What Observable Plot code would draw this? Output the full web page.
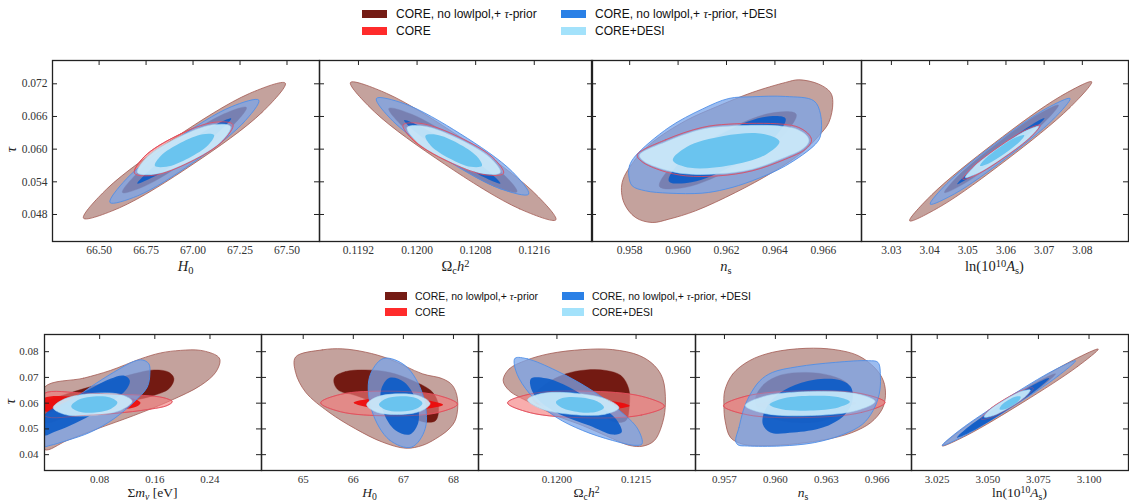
<!DOCTYPE html>
<html><head><meta charset="utf-8">
<script src="https://cdn.jsdelivr.net/npm/d3@7"></script>
<script src="https://cdn.jsdelivr.net/npm/@observablehq/plot@0.6"></script>
<style>
body{margin:0;background:#fff;}
#root{position:relative;width:1129px;height:502px;overflow:hidden;background:#fff;}
.abs{position:absolute;}
.leg{font-family:"Liberation Sans",Arial,sans-serif;color:#111;white-space:nowrap;}
.ttl{font-family:"Liberation Serif","DejaVu Serif",serif;color:#222;white-space:nowrap;transform:translateX(-50%);}
.ttl sub{font-size:0.72em;vertical-align:-0.3em;line-height:0;}
.ttl sup{font-size:0.72em;vertical-align:0.4em;line-height:0;}
.tau{font-family:"Liberation Serif","DejaVu Serif",serif;font-style:italic;font-size:15px;line-height:15px;color:#222;transform:rotate(-90deg);}
</style></head><body><div id="root"></div>
<script>
// ---------- legend / labels ----------
const seriesNames = ["CORE, no lowlpol,+ τ-prior", "CORE", "CORE, no lowlpol,+ τ-prior, +DESI", "CORE+DESI"];
const seriesColors = ["#741b14", "#ff2b2b", "#2a80e6", "#a3e2fb"];
const topTitles = ["<i>H</i><sub>0</sub>", "Ω<sub>c</sub><i>h</i><sup>2</sup>", "<i>n</i><sub>s</sub>", "ln(10<sup>10</sup><i>A</i><sub>s</sub>)"];
const bottomTitles = ["Σ<i>m</i><sub><i>ν</i></sub> [eV]", "<i>H</i><sub>0</sub>", "Ω<sub>c</sub><i>h</i><sup>2</sup>", "<i>n</i><sub>s</sub>", "ln(10<sup>10</sup><i>A</i><sub>s</sub>)"];

// ---------- tick values ----------
const tauTicksTop = [0.048, 0.054, 0.060, 0.066, 0.072];
const tauTicksBottom = [0.04, 0.05, 0.06, 0.07, 0.08];
const t1Ticks = [66.50, 66.75, 67.00, 67.25, 67.50];
const t2Ticks = [0.1192, 0.1200, 0.1208, 0.1216];
const t3Ticks = [0.958, 0.960, 0.962, 0.964, 0.966];
const t4Ticks = [3.03, 3.04, 3.05, 3.06, 3.07, 3.08];
const b1Ticks = [0.08, 0.16, 0.24];
const b2Ticks = [65, 66, 67, 68];
const b3Ticks = [0.1200, 0.1215];
const b4Ticks = [0.957, 0.960, 0.963, 0.966];
const b5Ticks = [3.025, 3.050, 3.075, 3.100];

// ---------- contours: top row (tau vs H0, Omega_c h^2, n_s, ln10As) ----------
const t1BrownOuter = [[67.491,0.07212],[67.367,0.06675],[67.001,0.05727],[66.608,0.04922],[66.417,0.04732],[66.541,0.05269],[66.907,0.06217],[67.300,0.07022]];
const t1BrownInner = [[67.284,0.06766],[67.209,0.06426],[66.985,0.05827],[66.743,0.05322],[66.624,0.05204],[66.699,0.05545],[66.923,0.06143],[67.165,0.06648]];
const t1BlueOuter = [[67.350,0.06900],[67.264,0.06471],[66.997,0.05744],[66.705,0.05142],[66.558,0.05020],[66.644,0.05449],[66.911,0.06177],[67.203,0.06778]];
const t1BlueInner = [[67.203,0.06563],[67.141,0.06331],[66.969,0.05885],[66.788,0.05487],[66.703,0.05369],[66.765,0.05601],[66.937,0.06047],[67.118,0.06445]];
const t1RedOuter = [[67.212,0.06453],[67.159,0.06151],[66.984,0.05764],[66.789,0.05519],[66.688,0.05559],[66.740,0.05861],[66.915,0.06248],[67.111,0.06493]];
const t1CyanOuter = [[67.199,0.06416],[67.149,0.06137],[66.983,0.05774],[66.798,0.05540],[66.704,0.05571],[66.754,0.05851],[66.920,0.06214],[67.104,0.06448]];
const t1CyanInner = [[67.112,0.06258],[67.081,0.06075],[66.976,0.05835],[66.858,0.05677],[66.797,0.05694],[66.829,0.05877],[66.934,0.06117],[67.052,0.06275]];

const t2BrownOuter = [[0.121895,0.04702],[0.1214,0.049032],[0.120375,0.057253],[0.119418,0.066868],[0.119091,0.072246],[0.119586,0.070234],[0.120611,0.062013],[0.121568,0.052398]];
const t2BrownInner = [[0.121364,0.052163],[0.121051,0.053223],[0.120409,0.058144],[0.119813,0.064045],[0.119614,0.067469],[0.119927,0.066409],[0.120569,0.061488],[0.121165,0.055587]];
const t2BlueOuter = [[0.121523,0.051734],[0.121143,0.052688],[0.120377,0.058228],[0.119673,0.065112],[0.119445,0.069306],[0.119825,0.068352],[0.120591,0.062812],[0.121295,0.055928]];
const t2BlueInner = [[0.121137,0.053694],[0.120916,0.054818],[0.12044,0.05869],[0.119988,0.063042],[0.119823,0.065326],[0.120044,0.064202],[0.12052,0.06033],[0.120972,0.055978]];
const t2RedOuter = [[0.121181,0.055561],[0.120924,0.055298],[0.120416,0.05779],[0.119954,0.061576],[0.119809,0.064439],[0.120066,0.064702],[0.120574,0.06221],[0.121036,0.058424]];
const t2CyanOuter = [[0.121136,0.055714],[0.120898,0.055483],[0.120427,0.057808],[0.119998,0.061327],[0.119864,0.06398],[0.120102,0.064211],[0.120573,0.061886],[0.121002,0.058367]];
const t2CyanInner = [[0.120886,0.056939],[0.120734,0.05675],[0.120445,0.058286],[0.120188,0.060646],[0.120114,0.062449],[0.120266,0.062638],[0.120556,0.061102],[0.120812,0.058742]];

const t3BrownOuter = [[0.95769,0.053877],[0.958241,0.058163],[0.958929,0.061225],[0.960306,0.065205],[0.961683,0.06796],[0.96306,0.070409],[0.964437,0.072246],[0.964988,0.072736],[0.965814,0.07194],[0.966296,0.070409],[0.966393,0.068572],[0.966227,0.064898],[0.965814,0.062449],[0.965126,0.059388],[0.963886,0.055714],[0.962372,0.05204],[0.960719,0.048672],[0.959618,0.047142],[0.958929,0.046529],[0.958241,0.047448],[0.957759,0.050203]];
const t3BrownInner = [[0.964878,0.066429],[0.964301,0.062379],[0.962409,0.05681],[0.960309,0.052985],[0.959232,0.053143],[0.959809,0.057193],[0.961701,0.062762],[0.963801,0.066587]];
const t3BlueOuter = [[0.957965,0.055102],[0.957993,0.056939],[0.958241,0.058775],[0.959618,0.06398],[0.960995,0.067348],[0.962096,0.069307],[0.96306,0.069613],[0.964437,0.069674],[0.965608,0.068878],[0.965883,0.066429],[0.965883,0.062449],[0.965677,0.060918],[0.964437,0.056939],[0.96306,0.054183],[0.961959,0.052652],[0.960995,0.051918],[0.959618,0.051918],[0.958654,0.052346],[0.958103,0.053265]];
const t3BlueInner = [[0.964438,0.065634],[0.963963,0.062039],[0.962354,0.057178],[0.960555,0.053899],[0.959618,0.054122],[0.960093,0.057717],[0.961702,0.062578],[0.963501,0.065857]];
const t3RedOuter = [[0.95831,0.058898],[0.95948,0.061714],[0.960995,0.06398],[0.962096,0.064592],[0.9643,0.064592],[0.964988,0.06398],[0.965429,0.062572],[0.965511,0.06147],[0.965263,0.06],[0.964437,0.058163],[0.96306,0.05602],[0.961683,0.055102],[0.960306,0.055102],[0.959342,0.05602],[0.958516,0.057673]];
const t3CyanOuter = [[0.958406,0.058898],[0.959549,0.06147],[0.960995,0.063674],[0.962096,0.064225],[0.964272,0.064225],[0.964933,0.063613],[0.965332,0.062388],[0.965401,0.061408],[0.965153,0.060061],[0.964368,0.058408],[0.96306,0.056326],[0.961683,0.055469],[0.960306,0.055469],[0.95937,0.056326],[0.958585,0.057796]];
const t3CyanInner = [[0.964189,0.061408],[0.963619,0.058988],[0.962092,0.056982],[0.960503,0.056564],[0.959783,0.05798],[0.960353,0.0604],[0.96188,0.062406],[0.963469,0.062824]];

const t4BrownOuter = [[3.082435,0.072368],[3.076615,0.067554],[3.060248,0.058082],[3.042921,0.0495],[3.034783,0.046836],[3.040603,0.05165],[3.05697,0.061122],[3.074297,0.069704]];
const t4BrownInner = [[3.073739,0.068082],[3.070146,0.065017],[3.059922,0.05905],[3.049056,0.053675],[3.043913,0.05204],[3.047506,0.055105],[3.05773,0.061072],[3.068596,0.066447]];
const t4BlueOuter = [[3.076782,0.069306],[3.072428,0.065518],[3.059903,0.058264],[3.046542,0.051794],[3.040174,0.049898],[3.044528,0.053686],[3.057053,0.06094],[3.070414,0.06741]];
const t4BlueInner = [[3.070087,0.065694],[3.067143,0.063537],[3.059226,0.059094],[3.050973,0.054967],[3.047217,0.053572],[3.050161,0.055729],[3.058078,0.060172],[3.066331,0.064299]];
const t4RedOuter = [[3.068956,0.064408],[3.066621,0.062314],[3.059722,0.058543],[3.052297,0.055302],[3.048696,0.05449],[3.051031,0.056584],[3.05793,0.060355],[3.065355,0.063596]];
const t4CyanOuter = [[3.068522,0.064164],[3.066279,0.062225],[3.059748,0.058678],[3.052753,0.055601],[3.049392,0.054796],[3.051635,0.056735],[3.058166,0.060282],[3.065161,0.063359]];
const t4CyanInner = [[3.064783,0.062571],[3.063507,0.061318],[3.059591,0.059149],[3.055329,0.057336],[3.053217,0.056939],[3.054493,0.058192],[3.058409,0.060361],[3.062671,0.062174]];

// ---------- contours: bottom row (tau vs sum m_nu, H0, Omega_c h^2, n_s, ln10As) ----------
const b1BrownOuter = [[0,0.0662],[0.0567,0.0697],[0.0955,0.0727],[0.1392,0.0772],[0.1683,0.0795],[0.1974,0.0805],[0.2265,0.0805],[0.2507,0.0783],[0.2546,0.0766],[0.2483,0.0720],[0.2265,0.0669],[0.1828,0.0610],[0.1295,0.0552],[0.0761,0.0500],[0.0325,0.0455],[0,0.0420],[-0.006,0.054]];
const b1BrownInner = [[0,0.0601],[0.0325,0.0636],[0.0810,0.0675],[0.1295,0.0714],[0.1586,0.0729],[0.1804,0.0720],[0.1877,0.0695],[0.1804,0.0656],[0.1586,0.0630],[0.1295,0.0610],[0.0810,0.0578],[0.0325,0.0546],[0,0.0524],[-0.006,0.056]];
const b1BlueOuter = [[0,0.0547],[0.0325,0.0597],[0.0664,0.0662],[0.1004,0.0720],[0.1295,0.0762],[0.1416,0.0768],[0.1513,0.0753],[0.1528,0.0714],[0.1489,0.0662],[0.1295,0.0604],[0.1004,0.0539],[0.0664,0.0487],[0.0325,0.0455],[0.0082,0.0436],[0,0.0433],[-0.006,0.049]];
const b1BlueInner = [[0,0.0555],[0.0325,0.0607],[0.0664,0.0656],[0.0955,0.0695],[0.1149,0.0707],[0.1237,0.0688],[0.1174,0.0649],[0.0955,0.0604],[0.0664,0.0552],[0.0373,0.0513],[0.0131,0.0487],[0,0.0475],[-0.006,0.051]];
const b1RedOuter = [[0,0.0638],[0.0567,0.0639],[0.1052,0.0635],[0.1440,0.0630],[0.1731,0.0621],[0.1853,0.0606],[0.1780,0.0591],[0.1489,0.0575],[0.1052,0.0561],[0.0567,0.0552],[0,0.0551],[-0.006,0.0595]];
const b1RedInner = [[0,0.0621],[0.0567,0.0625],[0.1052,0.0622],[0.1295,0.0617],[0.1392,0.0601],[0.1319,0.0585],[0.1052,0.0575],[0.0567,0.0572],[0,0.0570],[-0.006,0.0596]];
const b1CyanOuter = [[0.12705,0.06078],[0.11123,0.05739],[0.07117,0.05523],[0.03034,0.05556],[0.01259,0.05819],[0.0284,0.06158],[0.06846,0.06374],[0.10929,0.0634]];
const b1CyanInner = [[0.10571,0.06026],[0.09664,0.05784],[0.07326,0.05639],[0.0493,0.05675],[0.03878,0.05871],[0.04784,0.06113],[0.07122,0.06258],[0.09518,0.06221]];

const b2BrownOuter = [[64.847,0.0779],[65.380,0.0807],[65.780,0.0811],[66.247,0.0798],[66.713,0.0772],[67.380,0.0714],[67.780,0.0695],[67.980,0.0669],[68.080,0.0617],[68.047,0.0539],[67.913,0.0500],[67.647,0.0462],[67.380,0.0436],[67.047,0.0425],[66.580,0.0449],[66.047,0.0500],[65.513,0.0565],[65.047,0.0643],[64.847,0.0720]];
const b2BrownInner = [[65.627,0.0701],[65.847,0.0723],[66.247,0.0729],[66.713,0.0720],[67.180,0.0688],[67.580,0.0643],[67.700,0.0591],[67.647,0.0533],[67.447,0.0526],[67.047,0.0552],[66.580,0.0591],[66.047,0.0630],[65.713,0.0649],[65.620,0.0675]];
const b2BlueOuter = [[67.160,0.04292],[66.719,0.04575],[66.372,0.05701],[66.323,0.07009],[66.600,0.07734],[67.041,0.07451],[67.388,0.06325],[67.437,0.05017]];
const b2BlueInner = [[67.130,0.04784],[66.840,0.04945],[66.601,0.05656],[66.553,0.06501],[66.723,0.06983],[67.013,0.06822],[67.253,0.06111],[67.301,0.05266]];
const b2RedOuter = [[68.080,0.05961],[67.678,0.0563],[66.711,0.05508],[65.745,0.05667],[65.347,0.06013],[65.749,0.06344],[66.716,0.06466],[67.681,0.06307]];
const b2RedInner = [[67.793,0.05935],[67.530,0.05801],[66.897,0.05767],[66.267,0.05855],[66.007,0.06013],[66.270,0.06148],[66.903,0.06181],[67.533,0.06093]];
const b2CyanOuter = [[67.533,0.05987],[67.351,0.05696],[66.905,0.0556],[66.455,0.0566],[66.267,0.05935],[66.449,0.06226],[66.895,0.06362],[67.345,0.06263]];
const b2CyanInner = [[67.380,0.0600],[67.256,0.05783],[66.951,0.05677],[66.643,0.05745],[66.513,0.05948],[66.637,0.06166],[66.942,0.06272],[67.250,0.06203]];

const b3BrownOuter = [[0.118981,0.0688],[0.119095,0.0733],[0.119411,0.0766],[0.119854,0.0792],[0.120487,0.0808],[0.121057,0.0808],[0.121563,0.0785],[0.121848,0.0746],[0.122006,0.0695],[0.122057,0.0604],[0.122006,0.0526],[0.121848,0.0455],[0.121627,0.0433],[0.121373,0.0436],[0.121057,0.0462],[0.120487,0.0513],[0.119981,0.0552],[0.119475,0.0604],[0.119095,0.0649]];
const b3BrownInner = [[0.119538,0.0623],[0.119791,0.0675],[0.120171,0.0714],[0.120551,0.0729],[0.120930,0.0727],[0.121215,0.0707],[0.121361,0.0656],[0.121373,0.0591],[0.121310,0.0533],[0.121120,0.0526],[0.120804,0.0552],[0.120297,0.0572],[0.119791,0.0591],[0.119570,0.0604]];
const b3BlueOuter = [[0.119209,0.0775],[0.119443,0.0772],[0.119981,0.0727],[0.120614,0.0656],[0.121184,0.0572],[0.121532,0.0500],[0.121614,0.0442],[0.121500,0.0436],[0.121057,0.0455],[0.120487,0.0494],[0.119981,0.0546],[0.119570,0.0617],[0.119285,0.0695],[0.119190,0.0753]];
const b3BlueInner = [[0.119506,0.0695],[0.119791,0.0697],[0.120234,0.0662],[0.120740,0.0597],[0.121120,0.0539],[0.121228,0.0487],[0.121057,0.0478],[0.120614,0.0513],[0.120108,0.0552],[0.119696,0.0604],[0.119525,0.0649]];
const b3RedOuter = [[0.122038,0.05884],[0.121599,0.05537],[0.120546,0.05431],[0.119495,0.05629],[0.119063,0.06013],[0.119503,0.0636],[0.120556,0.06466],[0.121606,0.06268]];
const b3RedInner = [[0.12138,0.05903],[0.121116,0.05779],[0.120485,0.05754],[0.119854,0.05843],[0.119595,0.05994],[0.119858,0.06118],[0.12049,0.06142],[0.12112,0.06053]];
const b3CyanOuter = [[0.121177,0.05819],[0.120911,0.05573],[0.120292,0.05561],[0.119685,0.05792],[0.119443,0.06129],[0.11971,0.06375],[0.120328,0.06387],[0.120935,0.06157]];
const b3CyanInner = [[0.120892,0.05832],[0.120748,0.05662],[0.120422,0.05652],[0.120104,0.05808],[0.119981,0.06039],[0.120125,0.06208],[0.120452,0.06219],[0.12077,0.06062]];

const b4BrownOuter = [[0.957017,0.064805],[0.957485,0.0713],[0.958471,0.076493],[0.959827,0.07974],[0.9618,0.0813],[0.963526,0.080779],[0.964882,0.078442],[0.965868,0.073636],[0.966362,0.068701],[0.966485,0.062857],[0.966288,0.057662],[0.965622,0.052468],[0.964512,0.048572],[0.963033,0.045974],[0.961307,0.044286],[0.959334,0.043507],[0.958101,0.044026],[0.957362,0.046623],[0.957041,0.053117],[0.956967,0.058961]];
const b4BrownInner = [[0.958841,0.062208],[0.959334,0.067403],[0.960321,0.070909],[0.9618,0.071948],[0.963279,0.070649],[0.964266,0.067403],[0.964389,0.062208],[0.964019,0.057013],[0.962786,0.053117],[0.96106,0.052468],[0.959704,0.054416],[0.958964,0.057662]];
const b4BlueOuter = [[0.957658,0.045325],[0.957855,0.050519],[0.958101,0.057013],[0.958471,0.062857],[0.959088,0.068701],[0.959827,0.071948],[0.961307,0.074156],[0.963526,0.075844],[0.965499,0.076493],[0.966041,0.075844],[0.966189,0.07],[0.966115,0.063506],[0.965745,0.057013],[0.965129,0.051818],[0.964019,0.047922],[0.962293,0.044675],[0.960321,0.043377],[0.958348,0.043377],[0.957806,0.043766]];
const b4BlueInner = [[0.95926,0.051818],[0.959334,0.056364],[0.959827,0.061558],[0.960814,0.066104],[0.962293,0.069091],[0.963773,0.068961],[0.964463,0.066104],[0.964512,0.06026],[0.964019,0.055065],[0.962786,0.050519],[0.96106,0.048571],[0.959704,0.048571]];
const b4RedOuter = [[0.96646,0.06026],[0.965084,0.056403],[0.961726,0.054416],[0.958355,0.055481],[0.956943,0.058961],[0.958318,0.062818],[0.961677,0.064805],[0.965047,0.06374]];
const b4RedInner = [[0.964759,0.06],[0.963898,0.058507],[0.96181,0.057662],[0.959714,0.057961],[0.958841,0.059221],[0.959702,0.060714],[0.96179,0.061558],[0.963886,0.06126]];
const b4CyanOuter = [[0.965868,0.060649],[0.964774,0.057117],[0.962081,0.055195],[0.959369,0.056013],[0.958225,0.059091],[0.959319,0.062623],[0.962012,0.064545],[0.964724,0.063727]];
const b4CyanInner = [[0.964389,0.060519],[0.963711,0.058351],[0.962044,0.057143],[0.960365,0.05761],[0.959655,0.059481],[0.960333,0.061649],[0.962,0.062857],[0.963679,0.06239]];

const b5BrownOuter = [[3.10455,0.081],[3.094271,0.074197],[3.067443,0.060359],[3.039775,0.047589],[3.02747,0.043364],[3.037749,0.050167],[3.064577,0.064005],[3.092245,0.076775]];
const b5BrownInner = [[3.083453,0.071415],[3.077698,0.067179],[3.06229,0.058808],[3.046254,0.051203],[3.038983,0.048819],[3.044738,0.053055],[3.060146,0.061426],[3.076182,0.069031]];
const b5BlueOuter = [[3.093334,0.07648],[3.08463,0.070499],[3.061751,0.058391],[3.038096,0.047249],[3.02752,0.043598],[3.036224,0.049579],[3.059103,0.061687],[3.082758,0.072829]];
const b5BlueInner = [[3.08029,0.06974],[3.074374,0.065424],[3.058584,0.05686],[3.042166,0.049062],[3.034734,0.046598],[3.04065,0.050914],[3.05644,0.059478],[3.072858,0.067276]];
const b5RedOuter = [[3.072434,0.065883],[3.069564,0.06293],[3.060852,0.058169],[3.051398,0.05439],[3.04674,0.053805],[3.04961,0.056758],[3.058322,0.061519],[3.067776,0.065298]];
const b5RedInner = [[3.06601,0.062844],[3.064663,0.061254],[3.060343,0.058839],[3.055581,0.057012],[3.053164,0.056844],[3.054511,0.058434],[3.058831,0.060849],[3.063593,0.062676]];
const b5CyanOuter = [[3.070951,0.065065],[3.068411,0.062463],[3.060704,0.058328],[3.052343,0.055081],[3.048223,0.054623],[3.050763,0.057225],[3.05847,0.06136],[3.066831,0.064607]];
const b5CyanInner = [[3.066208,0.062455],[3.06531,0.060918],[3.0619,0.058866],[3.057974,0.057502],[3.055832,0.057623],[3.05673,0.05916],[3.06014,0.061212],[3.064066,0.062576]];

// ---------- styles (draw order: brown, red, blue, cyan) ----------
const STY = {
  brownOuter: {fill:"#c4a29d", fo:1, stroke:"#a35a53", sw:0.8},
  brownInner: {fill:"#731a12", fo:1, stroke:"#731a12", sw:0.4},
  redOuter:   {fill:"#f47a7a", fo:0.62, stroke:"#e4505c", sw:0.9},
  redInner:   {fill:"#ee0a0a", fo:0.92, stroke:"none", sw:0},
  blueOuter:  {fill:"#7aa4ea", fo:0.74, stroke:"#4f8fe8", sw:0.9},
  blueInner:  {fill:"#0d5cc8", fo:0.92, stroke:"none", sw:0},
  cyanOuter:  {fill:"#c9e9fa", fo:0.93, stroke:"#a6d8f3", sw:0.6},
  cyanInner:  {fill:"#6ac4ef", fo:1, stroke:"none", sw:0}
};
const ORDER = ["brownOuter","brownInner","redOuter","redInner","blueOuter","blueInner","cyanOuter","cyanInner"];

const root = document.getElementById("root");

// layout of panels (frame rectangles in px)
const TOP = {y0:60, y1:241, yDomain:[0.04304,0.07628], yTicks:tauTicksTop, yFmt:".3f", padX:4, padY:5, outline:0.9, titleTop:259, titleSize:14.5, tickFont:"11.5px"};
const BOT = {y0:334, y1:470, yDomain:[0.03385,0.08667], yTicks:tauTicksBottom, yFmt:".2f", padX:5, padY:6, outline:0.45, titleTop:486, titleSize:13.5, tickFont:"11px"};

const topPanels = [
  {x0:52, x1:319, xDomain:[66.252,67.673], xTicks:t1Ticks, fmt:".2f", title:topTitles[0],
   L:{brownOuter:t1BrownOuter,brownInner:t1BrownInner,redOuter:t1RedOuter,blueOuter:t1BlueOuter,blueInner:t1BlueInner,cyanOuter:t1CyanOuter,cyanInner:t1CyanInner}},
  {x0:319, x1:592, xDomain:[0.118668,0.122395], xTicks:t2Ticks, fmt:".4f", title:topTitles[1],
   L:{brownOuter:t2BrownOuter,brownInner:t2BrownInner,redOuter:t2RedOuter,blueOuter:t2BlueOuter,blueInner:t2BlueInner,cyanOuter:t2CyanOuter,cyanInner:t2CyanInner}},
  {x0:591, x1:861, xDomain:[0.956423,0.967577], xTicks:t3Ticks, fmt:".3f", title:topTitles[2],
   L:{brownOuter:t3BrownOuter,brownInner:t3BrownInner,redOuter:t3RedOuter,blueOuter:t3BlueOuter,blueInner:t3BlueInner,cyanOuter:t3CyanOuter,cyanInner:t3CyanInner}},
  {x0:861, x1:1128, xDomain:[3.02217,3.09209], xTicks:t4Ticks, fmt:".2f", title:topTitles[3],
   L:{brownOuter:t4BrownOuter,brownInner:t4BrownInner,redOuter:t4RedOuter,blueOuter:t4BlueOuter,blueInner:t4BlueInner,cyanOuter:t4CyanOuter,cyanInner:t4CyanInner}}
];
const bottomPanels = [
  {x0:44, x1:261, xDomain:[0,0.3147], xTicks:b1Ticks, fmt:".2f", title:bottomTitles[0],
   L:{brownOuter:b1BrownOuter,brownInner:b1BrownInner,redOuter:b1RedOuter,redInner:b1RedInner,blueOuter:b1BlueOuter,blueInner:b1BlueInner,cyanOuter:b1CyanOuter,cyanInner:b1CyanInner}},
  {x0:261, x1:478, xDomain:[64.167,68.5], xTicks:b2Ticks, fmt:"d", title:bottomTitles[1],
   L:{brownOuter:b2BrownOuter,brownInner:b2BrownInner,redOuter:b2RedOuter,redInner:b2RedInner,blueOuter:b2BlueOuter,blueInner:b2BlueInner,cyanOuter:b2CyanOuter,cyanInner:b2CyanInner}},
  {x0:478, x1:695, xDomain:[0.118513,0.122627], xTicks:b3Ticks, fmt:".4f", title:bottomTitles[2],
   L:{brownOuter:b3BrownOuter,brownInner:b3BrownInner,redOuter:b3RedOuter,redInner:b3RedInner,blueOuter:b3BlueOuter,blueInner:b3BlueInner,cyanOuter:b3CyanOuter,cyanInner:b3CyanInner}},
  {x0:695, x1:911, xDomain:[0.955294,0.968018], xTicks:b4Ticks, fmt:".3f", title:bottomTitles[3],
   L:{brownOuter:b4BrownOuter,brownInner:b4BrownInner,redOuter:b4RedOuter,redInner:b4RedInner,blueOuter:b4BlueOuter,blueInner:b4BlueInner,cyanOuter:b4CyanOuter,cyanInner:b4CyanInner}},
  {x0:911, x1:1128, xDomain:[3.0123,3.1195], xTicks:b5Ticks, fmt:".3f", title:bottomTitles[4],
   L:{brownOuter:b5BrownOuter,brownInner:b5BrownInner,redOuter:b5RedOuter,redInner:b5RedInner,blueOuter:b5BlueOuter,blueInner:b5BlueInner,cyanOuter:b5CyanOuter,cyanInner:b5CyanInner}}
];

function drawPanel(p, row, first) {
  const m = 6, mb = 24;
  const w = p.x1 - p.x0, h = row.y1 - row.y0;
  const marks = [];
  for (const key of ORDER) {
    const data = p.L[key];
    if (!data) continue;
    const s = STY[key];
    marks.push(Plot.line(data, {x: d => d[0], y: d => d[1], curve: "catmull-rom-closed",
      fill: s.fill, fillOpacity: s.fo, stroke: s.stroke, strokeWidth: s.sw, clip: true}));
  }
  if (p.L.redOuter) {
    marks.push(Plot.line(p.L.redOuter, {x: d => d[0], y: d => d[1], curve: "catmull-rom-closed",
      fill: "none", stroke: "#e04a5a", strokeWidth: 0.9, strokeOpacity: row.outline, clip: true}));
  }
  const tk = {stroke: "#222", strokeWidth: 1};
  marks.push(Plot.tickX(p.xTicks, {x: d => d, insetBottom: h - 5, ...tk}));
  marks.push(Plot.tickY(row.yTicks, {y: d => d, insetRight: w - 5, ...tk}));
  marks.push(Plot.tickY(row.yTicks, {y: d => d, insetLeft: w - 5, ...tk}));
  marks.push(Plot.frame({stroke: "#222", strokeWidth: 1.3}));
  const svg = Plot.plot({
    width: w + 2 * m, height: h + m + mb,
    marginLeft: m, marginRight: m, marginTop: m, marginBottom: mb,
    style: {background: "transparent", overflow: "visible", fontFamily: "'Liberation Serif','DejaVu Serif',serif", fontSize: row.tickFont, color: "#333"},
    x: {domain: p.xDomain, ticks: p.xTicks, tickFormat: d3.format(p.fmt), tickSize: 0, tickPadding: row.padX, label: null},
    y: first
      ? {domain: row.yDomain, ticks: row.yTicks, tickFormat: d3.format(row.yFmt), tickSize: 0, tickPadding: row.padY, label: null}
      : {domain: row.yDomain, axis: null},
    marks
  });
  svg.style.position = "absolute";
  svg.style.left = (p.x0 - m) + "px";
  svg.style.top = (row.y0 - m) + "px";
  root.appendChild(svg);
  const t = document.createElement("div");
  t.className = "abs ttl";
  t.style.left = ((p.x0 + p.x1) / 2) + "px";
  t.style.top = row.titleTop + "px";
  t.style.fontSize = row.titleSize + "px";
  t.style.lineHeight = row.titleSize + "px";
  t.innerHTML = p.title;
  root.appendChild(t);
}
topPanels.forEach((p, i) => drawPanel(p, TOP, i === 0));
bottomPanels.forEach((p, i) => drawPanel(p, BOT, i === 0));

// tau labels
[[9, 142], [8, 394]].forEach(([x, y]) => {
  const d = document.createElement("div");
  d.className = "abs tau"; d.style.left = x + "px"; d.style.top = y + "px"; d.textContent = "τ";
  root.appendChild(d);
});

// legends
function legend(cfg) {
  seriesNames.forEach((name, i) => {
    const col = i < 2 ? 0 : 1, r = i % 2;
    const sw = document.createElement("div");
    sw.className = "abs";
    sw.style.left = cfg.sx[col] + "px"; sw.style.top = (cfg.sy[r]) + "px";
    sw.style.width = cfg.sw + "px"; sw.style.height = cfg.sh + "px";
    sw.style.background = seriesColors[i];
    root.appendChild(sw);
    const tx = document.createElement("div");
    tx.className = "abs leg";
    tx.style.left = cfg.tx[col] + "px"; tx.style.top = cfg.ty[r] + "px";
    tx.style.fontSize = cfg.fs + "px"; tx.style.lineHeight = cfg.fs + "px";
    tx.innerHTML = name.replace("τ", '<i style="font-family:\'Liberation Serif\',serif">τ</i>');
    root.appendChild(tx);
  });
}
legend({sx:[362, 561], sy:[10, 27], sw:25, sh:8, tx:[396, 595], ty:[8, 25], fs:12});
legend({sx:[385, 562], sy:[292, 308], sw:22, sh:8, tx:[415, 592], ty:[291, 307], fs:10.5});
</script></body></html>
